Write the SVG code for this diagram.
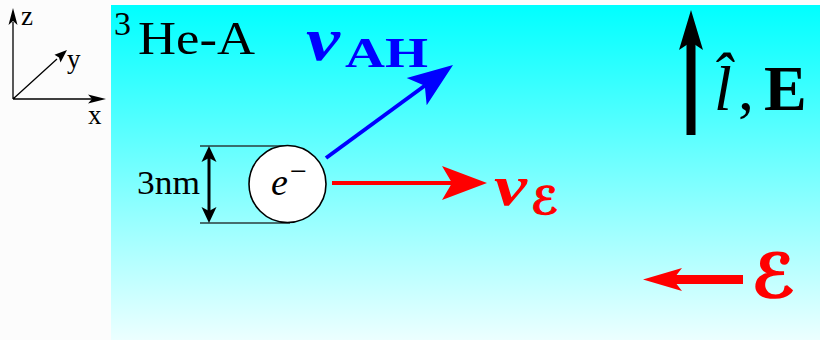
<svg xmlns="http://www.w3.org/2000/svg" width="820" height="340" viewBox="0 0 820 340">
<defs>
<linearGradient id="bg" x1="0" y1="0" x2="0" y2="1">
<stop offset="0" stop-color="#00ffff"/>
<stop offset="1" stop-color="#ecffff"/>
</linearGradient>
<style>
.t{font-family:"Liberation Serif","DejaVu Serif",serif;fill:#000}
.it{font-style:italic}
.bd{font-weight:bold}
.blue{fill:#0000ff}
.red{fill:#ff0000}
.scr{font-family:"DejaVu Serif","DejaVu Sans",serif;font-style:italic;font-weight:bold;fill:#ff0000;stroke:#ff0000}
.ax{stroke:#000;stroke-width:1.3;fill:none}
.dim{stroke:#2b3f3f;stroke-width:1.3;fill:none}
</style>
</defs>
<rect width="820" height="340" fill="#fcfcfc"/>
<rect x="111" y="5" width="709" height="335" fill="url(#bg)"/>

<g id="axes">
<path class="ax" d="M13,99 V22 M13,99 H93 M13,99 L57,59"/>
<path d="M13,8 L8.5,25 L13,21 L17.5,25 Z"/>
<path d="M106,99 L88,94.5 L92,99 L88,103.5 Z"/>
<path d="M67,50 L54.5,54.7 L59,57.5 L60.5,62.5 Z"/>
<text class="t" x="21" y="25" font-size="27">z</text>
<text class="t" x="67" y="68" font-size="27">y</text>
<text class="t" x="88" y="124" font-size="27">x</text>
</g>

<g id="title">
<text class="t" x="114" y="35" font-size="34">3</text>
<text class="t" x="138" y="54" font-size="46" textLength="117" lengthAdjust="spacingAndGlyphs">He-A</text>
</g>

<g id="connectors">
<line x1="326" y1="158" x2="425" y2="85.5" stroke="#0000ff" stroke-width="4"/>
<path fill="#0000ff" d="M453,65 L406.7,77.9 L424.8,85.7 L426.7,105.3 Z"/>
<line x1="332" y1="183" x2="455" y2="183" stroke="#ff0000" stroke-width="4"/>
<path fill="#ff0000" d="M487,183 L442,166 L452,183 L442,200 Z"/>
<line x1="743" y1="279.5" x2="672" y2="279.5" stroke="#ff0000" stroke-width="9"/>
<path fill="#ff0000" d="M643,279.5 L682,268 L673,279.5 L682,291 Z"/>
<line x1="691" y1="135" x2="691" y2="40" stroke="#000" stroke-width="9"/>
<path fill="#000" d="M691,10 L679,50 L691,42 L703,50 Z"/>
</g>

<g id="dimension">
<path class="dim" d="M200,146 H290 M200,223 H290"/>
<line x1="209" y1="158" x2="209" y2="211" stroke="#000" stroke-width="3"/>
<path d="M209,146 L201.5,162 L209,158 L216.5,162 Z"/>
<path d="M209,223 L201.5,207 L209,211 L216.5,207 Z"/>
<text class="t" x="137" y="194" font-size="34" textLength="63" lengthAdjust="spacingAndGlyphs">3nm</text>
</g>

<g id="electron">
<circle cx="287.5" cy="184" r="38.5" fill="#fff" stroke="#000" stroke-width="1.6"/>
<text class="t it" x="271" y="195" font-size="38">e</text>
<text class="t" x="290" y="181" font-size="30">−</text>
</g>

<g id="label-vAH">
<text class="t it bd blue" x="306" y="60" font-size="62" textLength="34" lengthAdjust="spacingAndGlyphs">v</text>
<text class="t bd blue" x="345" y="67" font-size="42" textLength="83" lengthAdjust="spacingAndGlyphs">AH</text>
</g>

<g id="label-vE">
<text class="t it bd red" x="494" y="205" font-size="58" textLength="33" lengthAdjust="spacingAndGlyphs">v</text>
<text class="scr" x="531" y="214" font-size="38" stroke-width="1.2">ℰ</text>
</g>

<g id="label-lE">
<text class="t it" x="714" y="110" font-size="64">l̂</text>
<text class="t" x="738" y="110" font-size="64">,</text>
<text class="t bd" x="764" y="110" font-size="64">E</text>
</g>

<g id="label-E">
<text class="scr" x="752" y="297" font-size="60" stroke-width="1.8">ℰ</text>
</g>
</svg>
